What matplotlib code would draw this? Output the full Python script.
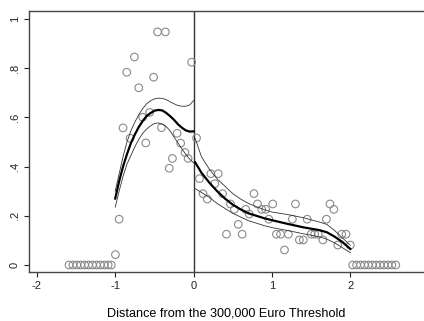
import numpy as np
import matplotlib
matplotlib.use("Agg")
import matplotlib.pyplot as plt

plt.rcParams['font.family'] = ['Liberation Sans', 'DejaVu Sans']

# Binned means (share above threshold) by distance from the threshold
bins_left_x = [-0.997, -0.95, -0.90, -0.853, -0.81, -0.755, -0.70, -0.65, -0.61, -0.56,
               -0.51, -0.46, -0.41, -0.36, -0.31, -0.27, -0.21, -0.165, -0.11, -0.07, -0.025]
bins_left_y = [0.042, 0.186, 0.557, 0.783, 0.515, 0.845, 0.72, 0.60, 0.496, 0.62,
               0.763, 0.947, 0.558, 0.947, 0.393, 0.433, 0.535, 0.495, 0.457, 0.433, 0.824]

bins_right_x = [0.038, 0.076, 0.12, 0.175, 0.22, 0.27, 0.315, 0.37, 0.42, 0.47,
                0.52, 0.57, 0.62, 0.665, 0.71, 0.77, 0.815, 0.87, 0.92, 0.96,
                1.01, 1.057, 1.11, 1.16, 1.21, 1.26, 1.30, 1.35, 1.40, 1.45,
                1.50, 1.545, 1.59, 1.65, 1.695, 1.74, 1.79, 1.84, 1.89, 1.945, 2.0]
bins_right_y = [0.516, 0.351, 0.29, 0.268, 0.371, 0.33, 0.371, 0.29, 0.125, 0.248,
                0.226, 0.165, 0.125, 0.226, 0.207, 0.29, 0.248, 0.226, 0.226, 0.186,
                0.248, 0.125, 0.125, 0.061, 0.125, 0.186, 0.248, 0.102, 0.102, 0.186,
                0.125, 0.125, 0.125, 0.102, 0.186, 0.248, 0.226, 0.081, 0.125, 0.125, 0.081]

zeros_left_x = [-1.59, -1.54, -1.49, -1.44, -1.39, -1.34, -1.29, -1.24, -1.19, -1.14, -1.09, -1.05]
zeros_right_x = [2.03, 2.08, 2.13, 2.18, 2.23, 2.28, 2.33, 2.38, 2.43, 2.48, 2.53, 2.58]

# Local polynomial fit with confidence band, left of threshold
fit_left_x = [-1.0, -0.95, -0.9, -0.85, -0.8, -0.75, -0.7, -0.65, -0.6, -0.55, -0.5,
              -0.45, -0.4, -0.35, -0.3, -0.25, -0.2, -0.15, -0.1, -0.05, 0.0]
fit_left = [0.27, 0.34, 0.40, 0.45, 0.495, 0.53, 0.56, 0.585, 0.605, 0.617, 0.627,
            0.63, 0.628, 0.618, 0.605, 0.59, 0.572, 0.558, 0.547, 0.542, 0.543]
fit_left_hi = [0.30, 0.37, 0.44, 0.50, 0.545, 0.58, 0.61, 0.635, 0.655, 0.667, 0.675,
               0.678, 0.677, 0.672, 0.663, 0.655, 0.648, 0.645, 0.645, 0.65, 0.668]
fit_left_lo = [0.235, 0.30, 0.36, 0.41, 0.445, 0.48, 0.51, 0.535, 0.552, 0.565, 0.575,
               0.577, 0.572, 0.563, 0.545, 0.52, 0.497, 0.472, 0.45, 0.43, 0.415]

# Same, right of threshold
fit_right_x = [0.02, 0.1, 0.2, 0.3, 0.4, 0.5, 0.6, 0.7, 0.8, 0.9, 1.0,
               1.2, 1.4, 1.6, 1.7, 1.8, 1.9, 2.0]
fit_right = [0.417, 0.375, 0.335, 0.30, 0.27, 0.245, 0.226, 0.21, 0.20, 0.19, 0.182,
             0.167, 0.153, 0.142, 0.133, 0.115, 0.093, 0.065]
fit_right_hi = [0.515, 0.44, 0.39, 0.35, 0.32, 0.29, 0.268, 0.25, 0.237, 0.225, 0.215,
                0.205, 0.192, 0.175, 0.165, 0.14, 0.11, 0.08]
fit_right_lo = [0.31, 0.295, 0.275, 0.25, 0.23, 0.21, 0.195, 0.18, 0.17, 0.16, 0.152,
                0.14, 0.127, 0.115, 0.105, 0.09, 0.07, 0.05]

W, H = 424, 321
fig = plt.figure(figsize=(W / 100, H / 100), dpi=100)
ax = fig.add_axes([29 / W, (H - 272) / H, (W - 29) / W, (272 - 11) / H])

pts_x = bins_left_x + bins_right_x + zeros_left_x + zeros_right_x
pts_y = bins_left_y + bins_right_y + [0] * len(zeros_left_x) + [0] * len(zeros_right_x)
ax.scatter(pts_x, pts_y, s=30, facecolors='none', edgecolors='#8a8a8a', linewidths=0.8, zorder=2)

for xs, mid, lo, hi in [(fit_left_x, fit_left, fit_left_lo, fit_left_hi),
                        (fit_right_x, fit_right, fit_right_lo, fit_right_hi)]:
    ax.plot(xs, hi, color='#333333', lw=0.6, zorder=3)
    ax.plot(xs, lo, color='#333333', lw=0.6, zorder=3)
    ax.plot(xs, mid, color='black', lw=1.6, zorder=4)

ax.axvline(0, color='#333333', lw=1.0, zorder=1)

ax.set_xlim(-2.10, 2.94)
ax.set_ylim(-0.0285, 1.032)
ax.set_xticks([-2, -1, 0, 1, 2])
ax.set_xticklabels(['-2', '-1', '0', '1', '2'])
ax.set_yticks([0, 0.2, 0.4, 0.6, 0.8, 1.0])
ax.set_yticklabels(['0', '.2', '.4', '.6', '.8', '1'], rotation=90, va='center')
ax.tick_params(direction='out', length=3.5, width=0.8, labelsize=8, colors='#222222', pad=3)

for side in ['left', 'bottom', 'top']:
    ax.spines[side].set_color('#444444')
    ax.spines[side].set_linewidth(1.0)
ax.spines['right'].set_visible(False)

ax.set_xlabel('Distance from the 300,000 Euro Threshold', fontsize=9.1, labelpad=12)

fig.savefig('out.png', dpi=100)
